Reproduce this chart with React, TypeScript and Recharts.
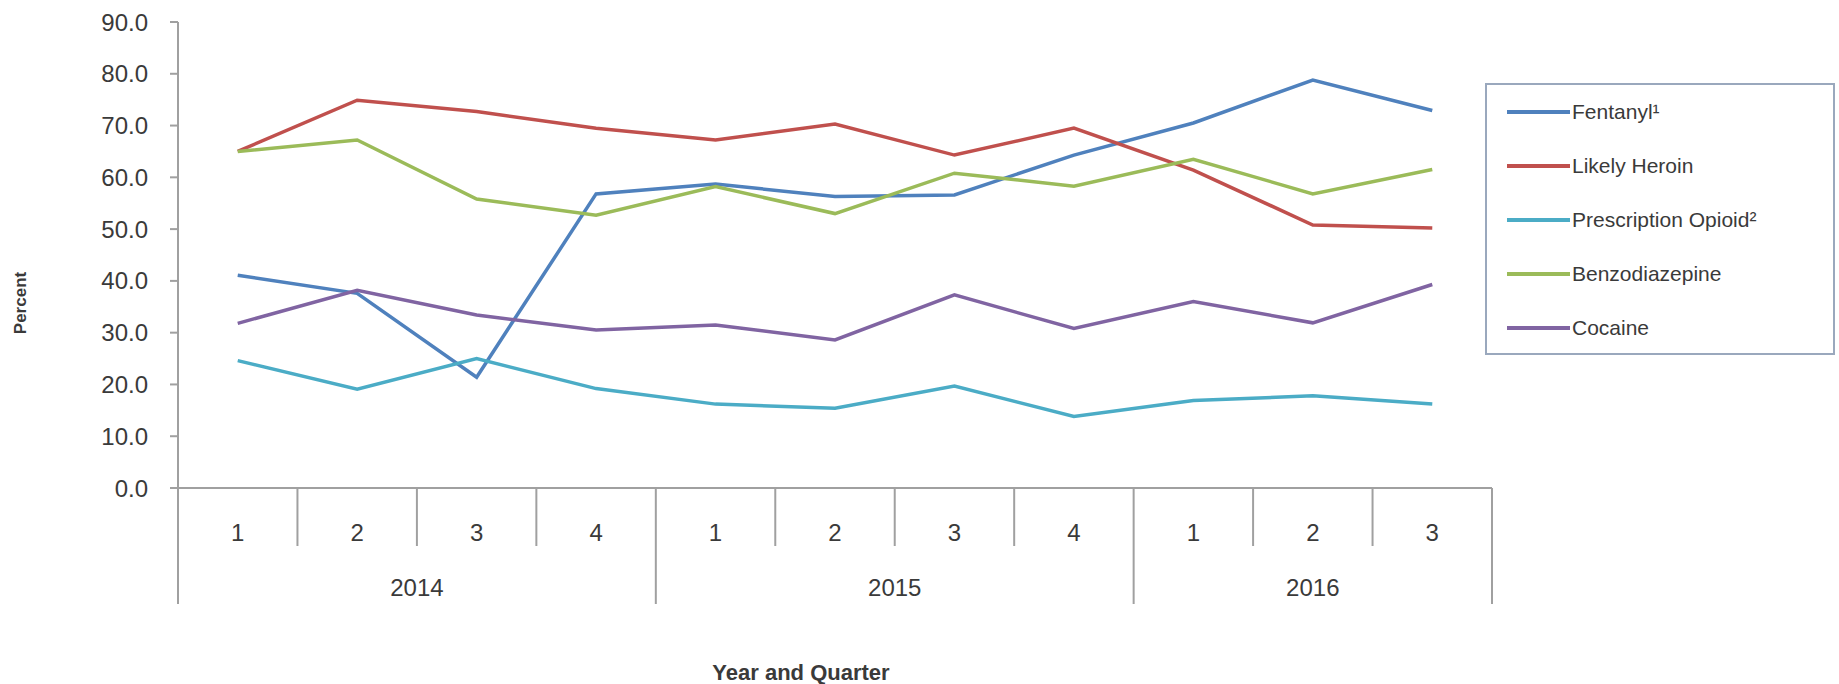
import { LineChart, Line, XAxis, YAxis, Legend, Label } from "recharts";

const quarters = ["1", "2", "3", "4", "1", "2", "3", "4", "1", "2", "3"];
const years = ["2014", "2014", "2014", "2014", "2015", "2015", "2015", "2015", "2016", "2016", "2016"];

const fentanyl = [41.1, 37.6, 21.4, 56.8, 58.7, 56.3, 56.6, 64.3, 70.5, 78.8, 72.9];
const heroin = [65.0, 74.9, 72.7, 69.5, 67.2, 70.3, 64.3, 69.5, 61.4, 50.8, 50.2];
const opioid = [24.6, 19.1, 25.0, 19.2, 16.2, 15.4, 19.7, 13.8, 16.9, 17.8, 16.2];
const benzo = [65.0, 67.2, 55.8, 52.7, 58.2, 53.0, 60.8, 58.3, 63.5, 56.8, 61.5];
const cocaine = [31.8, 38.2, 33.4, 30.5, 31.5, 28.6, 37.3, 30.8, 36.0, 31.9, 39.3];

const seriesNames = ["Fentanyl¹", "Likely Heroin", "Prescription Opioid²", "Benzodiazepine", "Cocaine"];
const yTicks = [0, 10, 20, 30, 40, 50, 60, 70, 80, 90];

const data = quarters.map((q, i) => ({
  key: `${years[i]}-${q}`,
  fentanyl: fentanyl[i],
  heroin: heroin[i],
  opioid: opioid[i],
  benzo: benzo[i],
  cocaine: cocaine[i],
}));

const W = 1839;
const H = 684;
const LEFT = 178;
const RIGHT = 347;
const PLOT_W = W - LEFT - RIGHT;
const BAND = PLOT_W / quarters.length;
const FONT = "'Liberation Sans', Arial, sans-serif";
const TEXT = "#3a3a3a";
const AXIS = "#a0a0a0";

const QuarterTick = (props: any) => {
  const { x, y } = props;
  const i = props.payload?.index ?? props.index;
  const left = x - BAND / 2;
  const yearStart = i === 0 || years[i] !== years[i - 1];
  const last = i === quarters.length - 1;
  const groupSize = years.filter((yr) => yr === years[i]).length;
  return (
    <g>
      <line x1={left} y1={y} x2={left} y2={y + (yearStart ? 116 : 58)} stroke={AXIS} strokeWidth={2} />
      {last && <line x1={left + BAND} y1={y} x2={left + BAND} y2={y + 116} stroke={AXIS} strokeWidth={2} />}
      <text x={x} y={y + 53} textAnchor="middle" fill={TEXT} fontSize={24} fontFamily={FONT}>
        {quarters[i]}
      </text>
      {yearStart && (
        <text x={left + (groupSize * BAND) / 2} y={y + 108} textAnchor="middle" fill={TEXT} fontSize={24} fontFamily={FONT}>
          {years[i]}
        </text>
      )}
    </g>
  );
};

const LegendBox = (props: any) => {
  const items = [...(props.payload || [])].sort(
    (a: any, b: any) => seriesNames.indexOf(a.value) - seriesNames.indexOf(b.value)
  );
  return (
    <div
      style={{
        border: "2px solid #9aa8bd",
        width: 350,
        height: 272,
        boxSizing: "border-box",
        background: "#fff",
        fontFamily: FONT,
        fontSize: 21,
        color: TEXT,
      }}
    >
      {items.map((p: any) => (
        <div key={p.value} style={{ display: "flex", alignItems: "center", height: 54 }}>
          <svg width={63} height={6} style={{ marginLeft: 20, marginRight: 2 }}>
            <line x1={0} y1={3} x2={63} y2={3} stroke={p.color} strokeWidth={4} />
          </svg>
          <span>{p.value}</span>
        </div>
      ))}
    </div>
  );
};

export default function App() {
  return (
    <div style={{ position: "absolute", left: 0, top: 0, width: W, height: H, background: "#fff" }}>
      <LineChart width={W} height={H} data={data} margin={{ top: 22, right: RIGHT, left: 0, bottom: 0 }}>
        <XAxis
          dataKey="key"
          interval={0}
          height={196}
          padding={{ left: BAND / 2, right: BAND / 2 }}
          axisLine={{ stroke: AXIS, strokeWidth: 2 }}
          tickLine={false}
          tickSize={0}
          tickMargin={0}
          tick={<QuarterTick />}
        >
          <Label
            content={() => (
              <text x={801} y={680} textAnchor="middle" fill={TEXT} fontSize={22} fontWeight="bold" fontFamily={FONT}>
                Year and Quarter
              </text>
            )}
          />
        </XAxis>
        <YAxis
          width={LEFT}
          domain={[0, 90]}
          ticks={yTicks}
          interval={0}
          tickFormatter={(v: number) => v.toFixed(1)}
          axisLine={{ stroke: AXIS, strokeWidth: 2 }}
          tickLine={{ stroke: AXIS, strokeWidth: 2 }}
          tickSize={8}
          tickMargin={22}
          tick={{ fill: TEXT, fontSize: 24, fontFamily: FONT }}
        >
          <Label
            content={() => (
              <text x={26} y={303} transform="rotate(-90 26 303)" textAnchor="middle" fill={TEXT} fontSize={17} fontWeight="bold" fontFamily={FONT}>
                Percent
              </text>
            )}
          />
        </YAxis>
        <Legend
          layout="vertical"
          align="center"
          verticalAlign="middle"
          content={<LegendBox />}
          wrapperStyle={{ left: 1485, top: 83, width: 350, height: 272 }}
        />
        <Line type="linear" dataKey="fentanyl" name={seriesNames[0]} stroke="#4F81BD" strokeWidth={3.5} dot={false} isAnimationActive={false} />
        <Line type="linear" dataKey="heroin" name={seriesNames[1]} stroke="#C0504D" strokeWidth={3.5} dot={false} isAnimationActive={false} />
        <Line type="linear" dataKey="opioid" name={seriesNames[2]} stroke="#4BACC6" strokeWidth={3.5} dot={false} isAnimationActive={false} />
        <Line type="linear" dataKey="benzo" name={seriesNames[3]} stroke="#9BBB59" strokeWidth={3.5} dot={false} isAnimationActive={false} />
        <Line type="linear" dataKey="cocaine" name={seriesNames[4]} stroke="#8064A2" strokeWidth={3.5} dot={false} isAnimationActive={false} />
      </LineChart>
    </div>
  );
}
